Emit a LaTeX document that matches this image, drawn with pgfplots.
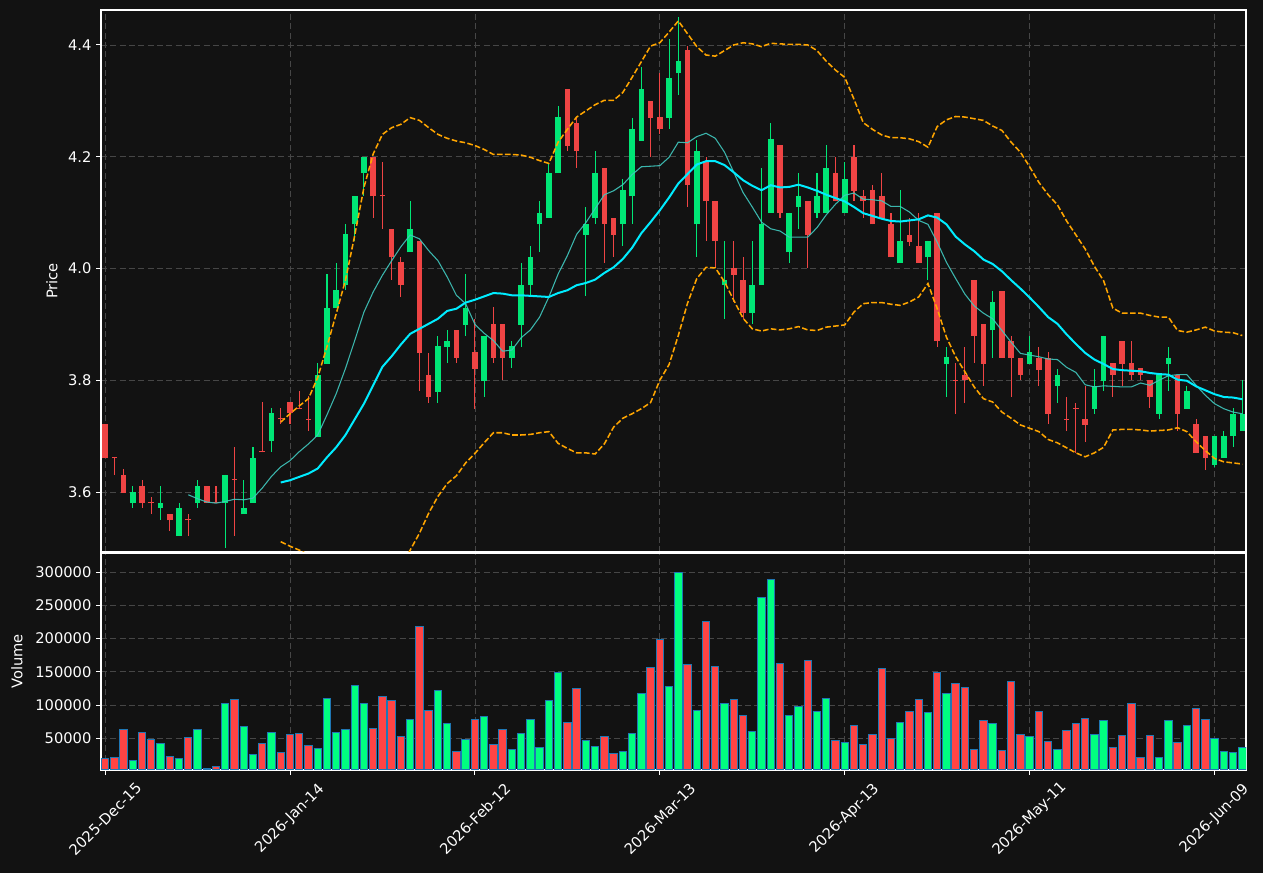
\documentclass[border=0pt]{standalone}
\usepackage{fontspec}
\setmainfont{DejaVu Sans}
\usepackage{pgfplots}
\usepackage{pgfplotstable}
\pgfplotsset{compat=1.18}
\definecolor{bg}{RGB}{18,18,18}
\definecolor{upc}{RGB}{0,230,118}
\definecolor{dnc}{RGB}{239,68,68}
\definecolor{vup}{RGB}{0,255,128}
\definecolor{vdn}{RGB}{255,68,68}
\definecolor{edgec}{RGB}{31,119,180}
\definecolor{gridc}{RGB}{70,70,70}
\definecolor{smaA}{RGB}{64,200,190}
\definecolor{smaB}{RGB}{0,236,255}
\definecolor{bandc}{RGB}{255,165,0}

\pgfplotstableread{
x o h l c v
3 3.580 3.611 3.571 3.600 16800
6 3.571 3.611 3.549 3.581 42500
8 3.521 3.580 3.521 3.571 19850
10 3.580 3.622 3.571 3.611 63600
13 3.580 3.631 3.500 3.631 102800
15 3.560 3.622 3.560 3.572 68100
16 3.580 3.681 3.580 3.661 25900
18 3.691 3.750 3.672 3.742 59000
23 3.699 3.830 3.699 3.810 34900
24 3.829 3.990 3.829 3.930 110300
25 3.929 4.010 3.929 3.961 59000
26 3.970 4.080 3.961 4.061 63600
27 4.079 4.130 4.050 4.130 129900
28 4.170 4.200 4.130 4.200 102800
33 4.029 4.121 4.029 4.071 78600
36 3.779 3.880 3.760 3.861 122400
37 3.860 3.890 3.830 3.871 72600
39 3.899 3.990 3.879 3.930 48500
41 3.799 3.880 3.770 3.880 83200
44 3.840 3.871 3.821 3.861 33400
45 3.899 4.010 3.860 3.971 57500
46 3.970 4.040 3.952 4.021 78600
47 4.079 4.121 4.030 4.100 36400
48 4.090 4.187 4.090 4.171 107300
49 4.170 4.290 4.170 4.271 149500
52 4.060 4.110 3.950 4.080 47000
53 4.090 4.211 4.080 4.171 37900
56 4.079 4.160 4.040 4.141 30400
57 4.129 4.270 4.080 4.250 57500
58 4.229 4.360 4.229 4.321 117800
61 4.270 4.410 4.249 4.341 128400
62 4.349 4.450 4.310 4.371 298700
64 4.079 4.230 4.020 4.211 92200
67 3.970 4.050 3.910 3.980 102800
70 3.920 4.050 3.901 3.971 60600
71 3.970 4.180 3.970 4.080 261000
72 4.099 4.260 4.099 4.231 288200
74 4.029 4.100 4.010 4.100 84700
75 4.110 4.171 4.071 4.130 98200
77 4.099 4.171 4.090 4.130 90700
78 4.099 4.221 4.099 4.180 110300
80 4.099 4.191 4.099 4.161 44000
86 4.010 4.140 4.010 4.050 74100
89 4.020 4.050 3.980 4.050 89200
91 3.829 3.860 3.770 3.841 117800
96 3.889 3.960 3.840 3.940 72600
100 3.829 3.880 3.829 3.850 53000
103 3.790 3.820 3.760 3.810 33400
107 3.749 3.820 3.740 3.790 56000
108 3.799 3.880 3.780 3.880 77100
114 3.740 3.810 3.730 3.810 21400
115 3.829 3.860 3.780 3.840 77100
117 3.749 3.790 3.749 3.780 69600
120 3.649 3.700 3.645 3.700 50000
121 3.660 3.710 3.660 3.700 30400
122 3.700 3.750 3.680 3.740 28900
123 3.710 3.800 3.710 3.740 36400
}\uptab

\pgfplotstableread{
x o h l c v
0 3.722 3.722 3.660 3.660 19350
1 3.662 3.662 3.631 3.660 21400
2 3.631 3.641 3.599 3.599 63600
4 3.611 3.622 3.571 3.580 59000
5 3.582 3.591 3.561 3.580 48500
7 3.561 3.561 3.530 3.549 22400
9 3.551 3.561 3.521 3.549 51500
11 3.611 3.611 3.580 3.580 4800
12 3.582 3.611 3.580 3.580 7300
14 3.623 3.681 3.521 3.621 108800
17 3.673 3.761 3.671 3.671 42500
19 3.732 3.750 3.722 3.730 28900
20 3.761 3.761 3.721 3.741 55000
21 3.751 3.780 3.749 3.749 57500
22 3.731 3.772 3.710 3.729 39400
29 4.200 4.200 4.090 4.129 65100
30 4.131 4.190 4.071 4.129 113300
31 4.071 4.071 3.980 4.020 107300
32 4.011 4.021 3.949 3.970 53000
34 4.050 4.050 3.780 3.849 218800
35 3.810 3.849 3.760 3.770 92200
38 3.890 3.890 3.830 3.840 30400
40 3.850 3.910 3.749 3.820 78600
42 3.900 3.931 3.830 3.840 41000
43 3.900 3.900 3.800 3.840 63600
50 4.321 4.321 4.211 4.220 74100
51 4.261 4.269 4.180 4.210 125400
54 4.180 4.180 4.010 4.080 53000
55 4.090 4.090 4.020 4.060 27400
59 4.300 4.300 4.200 4.270 157000
60 4.271 4.350 4.240 4.249 199200
63 4.391 4.399 4.110 4.149 161600
65 4.191 4.200 4.050 4.120 224900
66 4.121 4.121 4.000 4.049 158500
68 4.001 4.050 3.940 3.989 108800
69 3.980 4.020 3.910 3.920 84700
73 4.221 4.221 4.090 4.099 163100
76 4.121 4.121 4.000 4.060 167600
79 4.171 4.200 4.120 4.120 47000
81 4.200 4.221 4.120 4.139 69600
82 4.130 4.140 4.090 4.120 41000
83 4.140 4.149 4.079 4.079 56000
84 4.130 4.171 4.089 4.089 155500
85 4.080 4.100 4.020 4.020 49500
87 4.060 4.090 4.040 4.048 90700
88 4.040 4.100 4.010 4.010 108800
90 4.100 4.100 3.860 3.870 149500
92 3.801 3.830 3.740 3.799 132900
93 3.810 3.860 3.760 3.800 126900
94 3.980 3.980 3.830 3.879 33400
95 3.900 3.900 3.790 3.829 77100
97 3.960 3.960 3.840 3.840 31900
98 3.871 3.880 3.770 3.840 135900
99 3.840 3.840 3.800 3.809 56000
101 3.840 3.860 3.790 3.818 90700
102 3.840 3.850 3.721 3.740 45500
104 3.731 3.770 3.710 3.729 62100
105 3.751 3.760 3.670 3.749 72600
106 3.730 3.790 3.690 3.720 80100
109 3.830 3.830 3.770 3.810 36400
110 3.871 3.871 3.789 3.829 54500
111 3.830 3.871 3.800 3.810 102800
112 3.821 3.821 3.800 3.810 21400
113 3.800 3.800 3.750 3.770 54500
116 3.810 3.810 3.710 3.740 44000
118 3.721 3.730 3.670 3.670 95200
119 3.700 3.700 3.640 3.660 78600
}\dntab

\pgfplotstableread{
x s10 s20 up lo
9 3.595 nan nan nan
10 3.588 nan nan nan
11 3.582 nan nan nan
12 3.580 nan nan nan
13 3.583 nan nan nan
14 3.587 nan nan nan
15 3.586 nan nan nan
16 3.589 nan nan nan
17 3.607 nan nan nan
18 3.628 nan nan nan
19 3.645 3.617 3.725 3.511
20 3.656 3.621 3.740 3.503
21 3.672 3.627 3.754 3.496
22 3.686 3.633 3.767 3.488
23 3.702 3.642 3.805 3.479
24 3.738 3.662 3.860 3.464
25 3.776 3.680 3.919 3.441
26 3.821 3.702 3.979 3.425
27 3.871 3.730 4.059 3.401
28 3.922 3.758 4.145 3.371
29 3.958 3.791 4.205 3.377
30 3.988 3.824 4.240 3.403
31 4.014 3.843 4.252 3.431
32 4.039 3.864 4.258 3.466
33 4.060 3.883 4.270 3.496
34 4.053 3.892 4.265 3.526
35 4.032 3.901 4.252 3.562
36 4.014 3.910 4.240 3.592
37 3.985 3.924 4.233 3.615
38 3.952 3.928 4.228 3.629
39 3.937 3.939 4.225 3.652
40 3.900 3.944 4.220 3.669
41 3.884 3.950 4.213 3.688
42 3.871 3.956 4.204 3.706
43 3.852 3.955 4.204 3.706
44 3.854 3.952 4.204 3.702
45 3.876 3.952 4.203 3.702
46 3.890 3.951 4.199 3.703
47 3.913 3.950 4.193 3.706
48 3.949 3.949 4.188 3.708
49 3.990 3.956 4.226 3.687
50 4.023 3.961 4.249 3.678
51 4.061 3.970 4.271 3.670
52 4.082 3.974 4.282 3.670
53 4.107 3.980 4.293 3.668
54 4.132 3.992 4.301 3.686
55 4.139 4.002 4.301 3.716
56 4.150 4.017 4.315 3.732
57 4.168 4.037 4.342 3.740
58 4.182 4.063 4.370 3.749
59 4.183 4.083 4.398 3.760
60 4.184 4.104 4.404 3.800
61 4.199 4.127 4.423 3.828
62 4.226 4.152 4.443 3.880
63 4.225 4.169 4.420 3.938
64 4.236 4.186 4.397 3.982
65 4.242 4.192 4.382 4.002
66 4.233 4.192 4.380 4.001
67 4.208 4.185 4.390 3.976
68 4.172 4.172 4.400 3.943
69 4.136 4.158 4.404 3.911
70 4.110 4.148 4.402 3.892
71 4.083 4.140 4.397 3.888
72 4.071 4.149 4.403 3.892
73 4.067 4.145 4.402 3.890
74 4.056 4.146 4.401 3.892
75 4.056 4.150 4.401 3.896
76 4.056 4.145 4.400 3.890
77 4.073 4.139 4.390 3.889
78 4.096 4.132 4.371 3.895
79 4.115 4.126 4.355 3.897
80 4.131 4.120 4.342 3.899
81 4.135 4.110 4.303 3.922
82 4.124 4.099 4.261 3.937
83 4.123 4.094 4.249 3.939
84 4.121 4.089 4.239 3.939
85 4.111 4.085 4.234 3.936
86 4.111 4.084 4.234 3.934
87 4.101 4.086 4.232 3.940
88 4.086 4.088 4.227 3.949
89 4.079 4.095 4.217 3.973
90 4.047 4.091 4.254 3.928
91 4.011 4.079 4.266 3.877
92 3.982 4.057 4.272 3.842
93 3.954 4.043 4.271 3.815
94 3.933 4.031 4.268 3.788
95 3.920 4.016 4.265 3.767
96 3.910 4.008 4.255 3.761
97 3.889 3.995 4.247 3.743
98 3.868 3.979 4.226 3.732
99 3.848 3.964 4.208 3.720
100 3.845 3.948 4.182 3.714
101 3.842 3.931 4.154 3.708
102 3.838 3.913 4.132 3.694
103 3.837 3.901 4.114 3.688
104 3.823 3.882 4.085 3.679
105 3.814 3.865 4.060 3.670
106 3.792 3.849 4.035 3.663
107 3.788 3.837 4.004 3.670
108 3.790 3.829 3.978 3.680
109 3.789 3.820 3.929 3.711
110 3.788 3.818 3.920 3.712
111 3.788 3.817 3.920 3.712
112 3.795 3.816 3.920 3.711
113 3.791 3.813 3.916 3.709
114 3.800 3.811 3.913 3.710
115 3.808 3.810 3.913 3.711
116 3.810 3.801 3.889 3.715
117 3.810 3.799 3.886 3.708
118 3.791 3.789 3.890 3.690
119 3.773 3.782 3.895 3.674
120 3.758 3.775 3.888 3.660
121 3.749 3.770 3.886 3.654
122 3.743 3.769 3.885 3.652
123 3.740 3.766 3.880 3.650
}\ind

\pgfplotsset{
  darkax/.style={
    scale only axis,
    width=858.75pt,
    xmin=-0.44, xmax=123.4,
    axis background/.style={fill=bg},
    axis line style={white, line width=0.9pt},
    tick style={white, line width=0.7pt},
    tick align=outside,
    major tick length=3.7pt,
    ytick pos=left,
    xtick={0,20,40,60,80,100,120},
    grid=major,
    major grid style={gridc, line width=0.6pt, dash pattern=on 4.5pt off 2.5pt},
    every tick label/.append style={white, font=\fontsize{11}{13}\selectfont},
    every axis y label/.append style={white, font=\fontsize{11}{13}\selectfont},
  },
  candle/.style={draw=none, mark=none, forget plot, error bars/.cd, y explicit, error mark=none},
}

\begin{document}
\begin{tikzpicture}
\fill[bg] (0,0) rectangle (947.25pt,654.75pt);

% ---------------- price panel ----------------
\begin{axis}[darkax,
  at={(75.75pt,240.75pt)}, anchor=south west,
  height=406.5pt,
  ymin=3.4926, ymax=4.4626,
  ytick={3.6,3.8,4.0,4.2,4.4},
  xticklabels={},
  xtick style={draw=none},
  yticklabel style={/pgf/number format/.cd, fixed, fixed zerofill, precision=1, assume math mode=true},
  ylabel={Price},
  every axis y label/.append style={at={(axis description cs:-0.0428,0.5)}, anchor=center},
]
% wicks
\addplot[candle, y dir=both, error bar style={draw=upc, line width=0.8pt}]
  table[x=x, y=c, y error plus expr=\thisrow{h}-\thisrow{c}, y error minus expr=\thisrow{c}-\thisrow{l}] {\uptab};
\addplot[candle, y dir=both, error bar style={draw=dnc, line width=0.8pt}]
  table[x=x, y=c, y error plus expr=\thisrow{h}-\thisrow{c}, y error minus expr=\thisrow{c}-\thisrow{l}] {\dntab};
% bodies
\addplot[candle, y dir=plus, error bar style={draw=upc, line width=4.2pt}]
  table[x=x, y=o, y error plus expr=\thisrow{c}-\thisrow{o}] {\uptab};
\addplot[candle, y dir=plus, error bar style={draw=dnc, line width=4.2pt}]
  table[x=x, y=c, y error plus expr=\thisrow{o}-\thisrow{c}] {\dntab};
% indicators
\addplot[smaA, line width=0.8pt, opacity=0.9] table[x=x, y=s10] {\ind};
\addplot[smaB, line width=1.5pt] table[x=x, y=s20] {\ind};
\addplot[bandc, line width=1.15pt, dash pattern=on 4.2pt off 1.8pt] table[x=x, y=up] {\ind};
\addplot[bandc, line width=1.15pt, dash pattern=on 4.2pt off 1.8pt] table[x=x, y=lo] {\ind};
\end{axis}

% ---------------- volume panel ----------------
\begin{axis}[darkax,
  at={(75.75pt,77.25pt)}, anchor=south west,
  height=162.75pt,
  ymin=2260, ymax=328600,
  ytick={50000,100000,150000,200000,250000,300000},
  scaled y ticks=false,
  yticklabel style={/pgf/number format/.cd, fixed, 1000 sep={}, assume math mode=true},
  xtick pos=bottom,
  xticklabels={2025-Dec-15,2026-Jan-14,2026-Feb-12,2026-Mar-13,2026-Apr-13,2026-May-11,2026-Jun-09},
  xticklabel style={anchor=center, yshift=-33pt, rotate=45},
  ylabel={Volume},
  every axis y label/.append style={at={(axis description cs:-0.0734,0.5)}, anchor=center},
]
\addplot[ybar, bar shift=0pt, bar width=0.8, fill=vup, draw=edgec, line width=0.75pt] table[x=x, y=v] {\uptab};
\addplot[ybar, bar shift=0pt, bar width=0.8, fill=vdn, draw=edgec, line width=0.75pt] table[x=x, y=v] {\dntab};
\end{axis}

\pgfresetboundingbox
\path[use as bounding box] (0,0) rectangle (947.25pt,654.75pt);
\end{tikzpicture}
\end{document}
